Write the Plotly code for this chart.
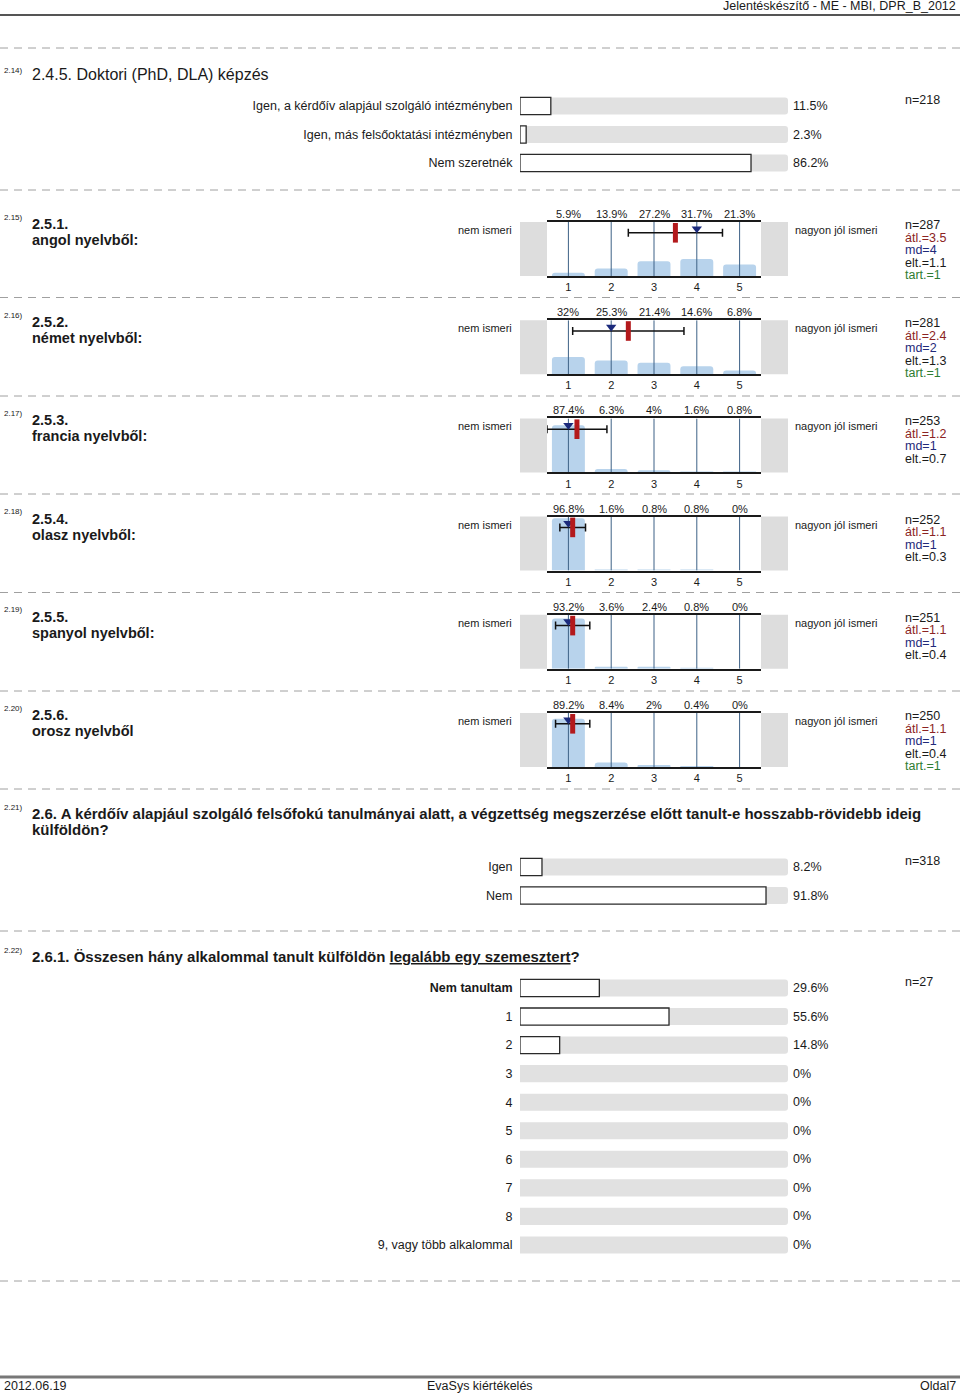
import plotly.graph_objects as go

W, H = 960, 1395
FONT = "Liberation Sans, Arial, Helvetica, sans-serif"
INK = "#1a1a1a"

# ---------------- data ----------------
header_text = "Jelentéskészítő - ME - MBI, DPR_B_2012"
footer_date = "2012.06.19"
footer_title = "EvaSys kiértékelés"
footer_page = "Oldal7"

q214_num = "2.14)"
q214_title = "2.4.5. Doktori (PhD, DLA) képzés"
q214_labels = ["Igen, a kérdőív alapjául szolgáló intézményben",
               "Igen, más felsőoktatási intézményben",
               "Nem szeretnék"]
q214_pct = [11.5, 2.3, 86.2]
q214_n = 218

q221_num = "2.21)"
q221_title = ["2.6. A kérdőív alapjául szolgáló felsőfokú tanulmányai alatt, a végzettség megszerzése előtt tanult-e hosszabb-rövidebb ideig",
              "külföldön?"]
q221_labels = ["Igen", "Nem"]
q221_pct = [8.2, 91.8]
q221_n = 318

q222_num = "2.22)"
q222_title = "2.6.1. Összesen hány alkalommal tanult külföldön <u>legalább egy szemesztert</u>?"
q222_labels = ["Nem tanultam", "1", "2", "3", "4", "5", "6", "7", "8",
               "9, vagy több alkalommal"]
q222_pct = [29.6, 55.6, 14.8, 0, 0, 0, 0, 0, 0, 0]
q222_n = 27

scale_points = [1, 2, 3, 4, 5]
scale_left = "nem ismeri"
scale_right = "nagyon jól ismeri"

lang_nums = ["2.15)", "2.16)", "2.17)", "2.18)", "2.19)", "2.20)"]
lang_codes = ["2.5.1.", "2.5.2.", "2.5.3.", "2.5.4.", "2.5.5.", "2.5.6."]
lang_names = ["angol nyelvből:", "német nyelvből:", "francia nyelvből:",
              "olasz nyelvből:", "spanyol nyelvből:", "orosz nyelvből"]
angol_pct = [5.9, 13.9, 27.2, 31.7, 21.3]
nemet_pct = [32, 25.3, 21.4, 14.6, 6.8]
francia_pct = [87.4, 6.3, 4, 1.6, 0.8]
olasz_pct = [96.8, 1.6, 0.8, 0.8, 0]
spanyol_pct = [93.2, 3.6, 2.4, 0.8, 0]
orosz_pct = [89.2, 8.4, 2, 0.4, 0]
lang_pct = [angol_pct, nemet_pct, francia_pct, olasz_pct, spanyol_pct, orosz_pct]
lang_n = [287, 281, 253, 252, 251, 250]
lang_mean = [3.5, 2.4, 1.2, 1.1, 1.1, 1.1]
lang_median = [4, 2, 1, 1, 1, 1]
lang_sd = [1.1, 1.3, 0.7, 0.3, 0.4, 0.4]
lang_tart = [1, 1, None, None, None, 1]

# ---------------- styling / layout helpers ----------------
fig = go.Figure()
layout = dict(width=W, height=H, margin=dict(l=0, r=0, t=0, b=0),
              paper_bgcolor="white", plot_bgcolor="rgba(0,0,0,0)",
              showlegend=False, barmode="overlay",
              font=dict(family=FONT, size=12, color=INK))
annotations = []
shapes = []


def fx(x):
    return x / W


def fy(y):
    return 1 - y / H


def text(t, x, y, size=12.5, color=INK, xanchor="left", bold=False):
    if bold:
        t = f"<b>{t}</b>"
    annotations.append(dict(text=t, x=fx(x), y=fy(y), xref="paper", yref="paper",
                            xanchor=xanchor, yanchor="middle", showarrow=False,
                            font=dict(size=size, color=color, family=FONT)))


def hline(y, color, width, dash=None, x0=0, x1=W):
    shapes.append(dict(type="line", xref="paper", yref="paper",
                       x0=fx(x0), x1=fx(x1), y0=fy(y), y1=fy(y),
                       line=dict(color=color, width=width, dash=dash)))


def rect(x0, x1, y0, y1, color):
    shapes.append(dict(type="rect", xref="paper", yref="paper", layer="below",
                       x0=fx(x0), x1=fx(x1), y0=fy(y1), y1=fy(y0),
                       fillcolor=color, line=dict(width=0)))


ax_count = [0]


def new_axes():
    ax_count[0] += 1
    k = ax_count[0]
    s = "" if k == 1 else str(k)
    return "x" + s, "y" + s, "xaxis" + s, "yaxis" + s


def pct_text(v):
    return f"{v:g}%"


# ---------------- horizontal bar sections ----------------
def hbar_section(labels, pct, n, y_first, step, bold_labels=()):
    xr, yr, xa, ya = new_axes()
    m = len(labels)
    layout[xa] = dict(domain=[fx(520), fx(788)], range=[0, 100], anchor=yr,
                      visible=False, fixedrange=True)
    ticktext = [f"<b>{l}</b>" if l in bold_labels else l for l in labels]
    layout[ya] = dict(domain=[fy(y_first + (m - 0.5) * step), fy(y_first - 0.5 * step)],
                      type="category", range=[m - 0.5, -0.5], anchor=xr,
                      tickvals=labels, ticktext=ticktext,
                      ticks="outside", ticklen=4, tickcolor="rgba(0,0,0,0)",
                      showgrid=False, zeroline=False, showline=False,
                      tickfont=dict(size=12.5, color=INK, family=FONT), fixedrange=True)
    fig.add_trace(go.Bar(y=labels, x=[100] * m, orientation="h", xaxis=xr, yaxis=yr,
                         width=0.6, hoverinfo="skip",
                         marker=dict(color="#e1e1e1", cornerradius=3, line=dict(width=0))))
    fig.add_trace(go.Bar(y=labels, x=pct, orientation="h", xaxis=xr, yaxis=yr,
                         width=0.6, hoverinfo="skip",
                         marker=dict(color="white", cornerradius=4,
                                     line=dict(color="#2a2a2a",
                                               width=[1.3 if v > 0 else 0 for v in pct]))))
    for i, v in enumerate(pct):
        annotations.append(dict(text=pct_text(v), x=100, y=i, xref=xr, yref=yr,
                                xanchor="left", yanchor="middle", xshift=3, showarrow=False,
                                font=dict(size=12.5, color=INK, family=FONT)))
    text(f"n={n}", 903, y_first - 6, size=12.5)


# ---------------- histogram sections ----------------
def hist_section(i):
    top = 222 + 98.2 * i
    bot = top + 54
    xr, yr, xa, ya = new_axes()
    layout[xa] = dict(domain=[fx(547), fx(761)], range=[0.5, 5.5], anchor=yr,
                      tickvals=scale_points, ticktext=[str(p) for p in scale_points],
                      ticks="", showline=True, mirror=True, linecolor="#1a1a1a", linewidth=2,
                      showgrid=False, zeroline=False,
                      tickfont=dict(size=11, color=INK, family=FONT), fixedrange=True)
    layout[ya] = dict(domain=[fy(bot), fy(top)], range=[0, 100], anchor=xr,
                      visible=False, fixedrange=True)
    rect(520, 547, top, bot, "#dddddd")
    rect(761, 788, top, bot, "#dddddd")

    pct = lang_pct[i]
    fig.add_trace(go.Bar(x=scale_points, y=pct, xaxis=xr, yaxis=yr, width=0.77,
                         hoverinfo="skip",
                         marker=dict(color="#b8d3ec", cornerradius=3, line=dict(width=0))))
    gx, gy = [], []
    for p in scale_points:
        gx += [p, p, None]
        gy += [0, 100, None]
    fig.add_trace(go.Scatter(x=gx, y=gy, mode="lines", xaxis=xr, yaxis=yr, hoverinfo="skip",
                             line=dict(color="#3d6186", width=1)))
    # error bar (mean ± sd)
    fig.add_trace(go.Scatter(x=[lang_mean[i]], y=[80], mode="markers", xaxis=xr, yaxis=yr,
                             hoverinfo="skip", cliponaxis=False,
                             marker=dict(size=1, color="rgba(0,0,0,0)"),
                             error_x=dict(type="data", array=[lang_sd[i]], color="#111111",
                                          thickness=1.5, width=4)))
    # median
    fig.add_trace(go.Scatter(x=[lang_median[i]], y=[87.5], mode="markers", xaxis=xr, yaxis=yr,
                             hoverinfo="skip", cliponaxis=False,
                             marker=dict(symbol="triangle-down", size=9, color="#1b2a7c")))
    # mean
    fig.add_trace(go.Scatter(x=[lang_mean[i]], y=[80], mode="markers", xaxis=xr, yaxis=yr,
                             hoverinfo="skip", cliponaxis=False,
                             marker=dict(symbol="line-ns", size=14,
                                         line=dict(width=5, color="#b3191c"))))
    for p, v in zip(scale_points, pct):
        annotations.append(dict(text=pct_text(v), x=p, y=1, xref=xr, yref=yr + " domain",
                                xanchor="center", yanchor="bottom", showarrow=False,
                                font=dict(size=11, color=INK, family=FONT)))
    # titles
    text(lang_nums[i], 2, top - 5, size=8)
    text(lang_codes[i], 30, top + 2, size=14.5, bold=True)
    text(lang_names[i], 30, top + 18, size=14.5, bold=True)
    text(scale_left, 514, top + 8, size=11, xanchor="right")
    text(scale_right, 793, top + 8, size=11)
    # statistics
    stats = [(f"n={lang_n[i]}", INK), (f"átl.={lang_mean[i]}", "#8b2323"),
             (f"md={lang_median[i]}", "#1f2a7a"), (f"elt.={lang_sd[i]}", INK)]
    if lang_tart[i] is not None:
        stats.append((f"tart.={lang_tart[i]}", "#2e7d32"))
    for j, (t, c) in enumerate(stats):
        text(t, 903, top + 3 + 12.5 * j, size=12.5, color=c)


# ---------------- page furniture ----------------
text(header_text, 958, 6, size=12.5, xanchor="right")
hline(15, "#555555", 2)
for yd in [48, 190, 297.5, 396, 494, 592.5, 691, 789, 931, 1281]:
    hline(yd, "#a0a0a0", 1, dash="8px,6px")
hline(1377, "#777777", 3)
text(footer_date, 2, 1386, size=12.5)
text(footer_title, 480, 1386, size=12.5, xanchor="center")
text(footer_page, 958, 1386, size=12.5, xanchor="right")

# 2.14
text(q214_num, 2, 70, size=8)
text(q214_title, 30, 75, size=16)
hbar_section(q214_labels, q214_pct, q214_n, 106, 28.5)

# 2.15 - 2.20
for i in range(len(lang_pct)):
    hist_section(i)

# 2.21
text(q221_num, 2, 807, size=8)
text(q221_title[0], 30, 813, size=15, bold=True)
text(q221_title[1], 30, 829, size=15, bold=True)
hbar_section(q221_labels, q221_pct, q221_n, 867, 28.5)

# 2.22
text(q222_num, 2, 950, size=8)
text(q222_title, 30, 956, size=15, bold=True)
hbar_section(q222_labels, q222_pct, q222_n, 988, 28.55, bold_labels=("Nem tanultam",))

layout["annotations"] = annotations
layout["shapes"] = shapes
fig.update_layout(**layout)
fig.write_html("out.html", config={"displayModeBar": False},
               post_script="document.body.style.margin='0px';")
